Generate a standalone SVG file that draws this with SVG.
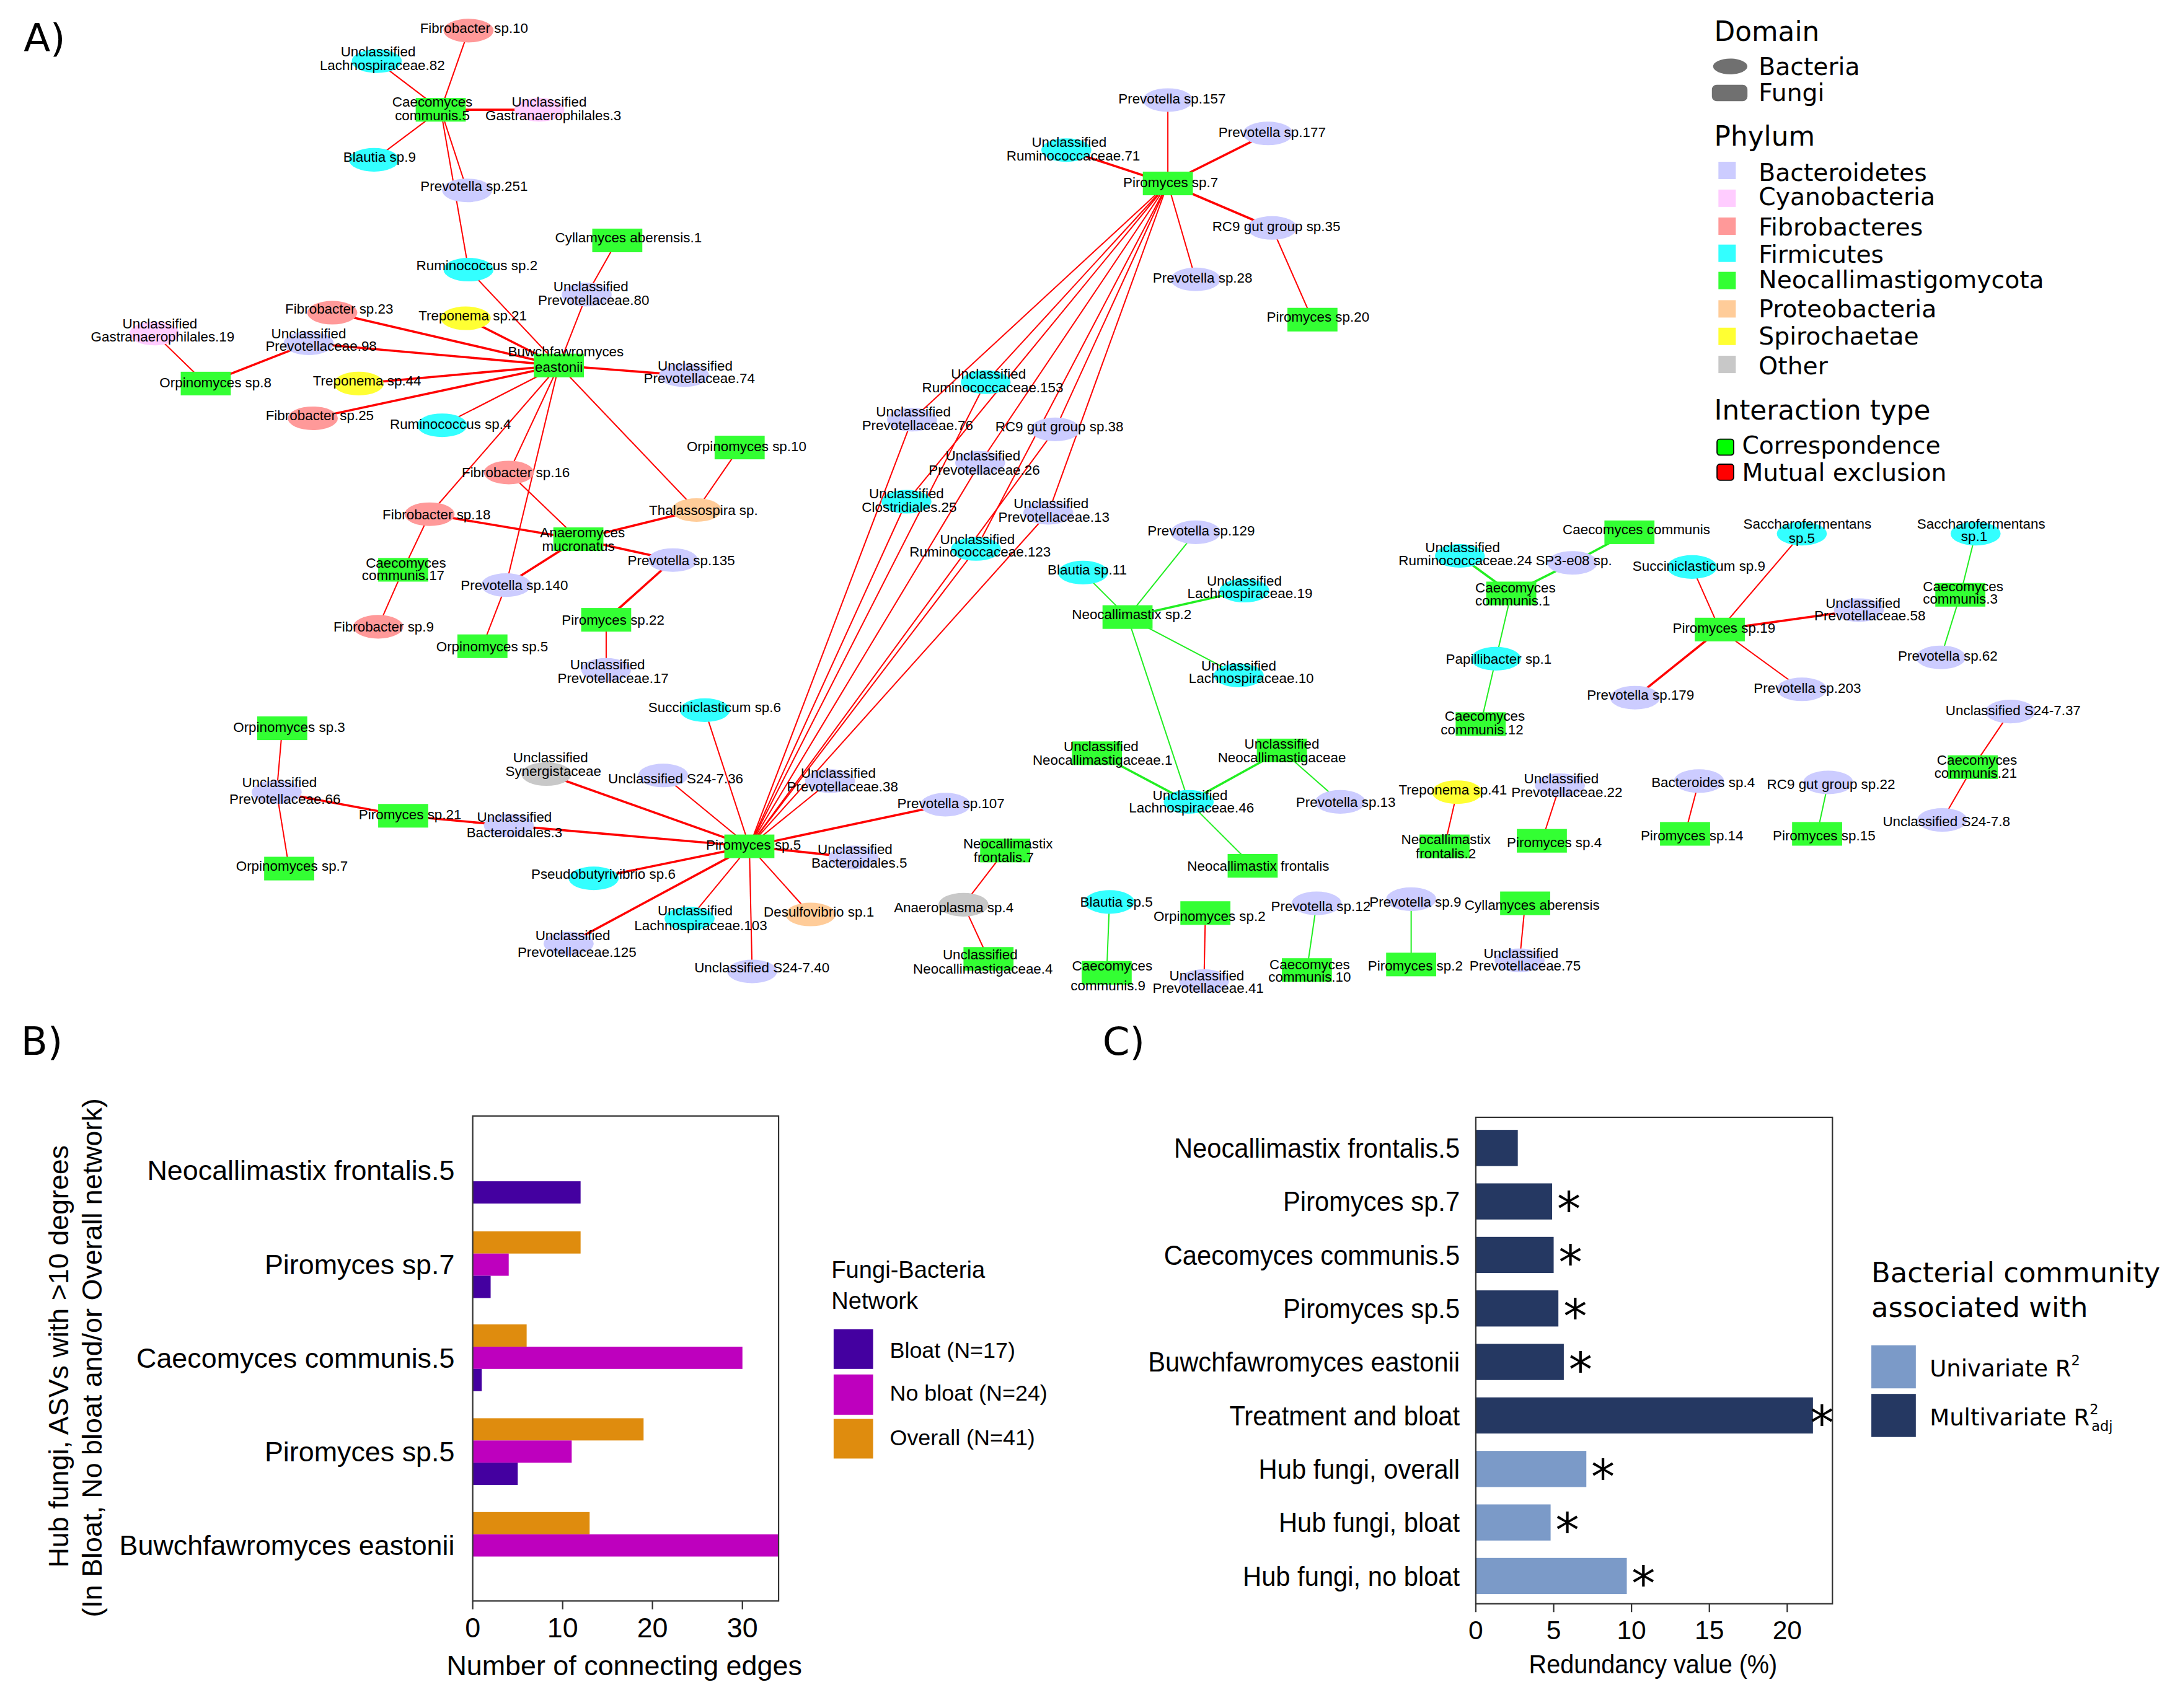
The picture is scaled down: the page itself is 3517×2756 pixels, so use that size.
<svg xmlns="http://www.w3.org/2000/svg" width="3517" height="2756" viewBox="0 0 3517 2756">
<style>
.t{font-family:"Liberation Sans",Arial,sans-serif;font-size:10px;text-anchor:middle;fill:#000}
.bd{fill:#ccccff}.cy{fill:#ffccff}.fb{fill:#ff9999}.fm{fill:#33ffff}.nc{fill:#33ff33}.pr{fill:#ffcc99}.sp{fill:#ffff33}.ot{fill:#c8c8c8}
.r{stroke:#ff0000;stroke-width:0.9}.R{stroke:#ff0000;stroke-width:1.6}
.g{stroke:#22ee22;stroke-width:0.9}.G{stroke:#22ee22;stroke-width:1.6}
.lg{font-family:"DejaVu Sans",Verdana,sans-serif;fill:#000}
.ax{font-family:"Liberation Sans",Arial,sans-serif;fill:#000}
.pl{font-family:"DejaVu Sans",Verdana,sans-serif;font-size:28px;fill:#000}
</style>
<rect x="0" y="0" width="3517" height="2756" fill="#fff"/>
<g transform="scale(2.24298 2.24247)">
<text class="pl" x="17" y="37">A)</text>

<g id="connectors" fill="none">
<line class="r" x1="317" y1="79" x2="337" y2="22"/>
<line class="r" x1="317" y1="79" x2="271" y2="44"/>
<line class="R" x1="317" y1="79" x2="388" y2="79"/>
<line class="r" x1="317" y1="79" x2="269" y2="115"/>
<line class="r" x1="317" y1="79" x2="336" y2="137"/>
<line class="r" x1="317" y1="79" x2="337" y2="194"/>
<line class="r" x1="337" y1="194" x2="402" y2="263"/>
<line class="r" x1="444" y1="173" x2="422" y2="212"/>
<line class="r" x1="422" y1="212" x2="402" y2="263"/>
<line class="R" x1="239" y1="225" x2="402" y2="263"/>
<line class="R" x1="335" y1="229" x2="402" y2="263"/>
<line class="R" x1="222" y1="247" x2="402" y2="263"/>
<line class="r" x1="111" y1="240" x2="148" y2="276"/>
<line class="R" x1="148" y1="276" x2="222" y2="247"/>
<line class="R" x1="258" y1="276" x2="402" y2="263"/>
<line class="R" x1="492" y1="270" x2="402" y2="263"/>
<line class="R" x1="225" y1="301" x2="402" y2="263"/>
<line class="r" x1="318" y1="306" x2="402" y2="263"/>
<line class="r" x1="366" y1="340" x2="402" y2="263"/>
<line class="r" x1="309" y1="370" x2="402" y2="263"/>
<line class="r" x1="364" y1="421" x2="402" y2="263"/>
<line class="r" x1="501" y1="367" x2="402" y2="263"/>
<line class="r" x1="532" y1="322" x2="501" y2="367"/>
<line class="R" x1="501" y1="367" x2="416" y2="388"/>
<line class="r" x1="366" y1="340" x2="416" y2="388"/>
<line class="R" x1="309" y1="370" x2="416" y2="388"/>
<line class="R" x1="416" y1="388" x2="484" y2="403"/>
<line class="R" x1="416" y1="388" x2="364" y2="421"/>
<line class="r" x1="309" y1="370" x2="290" y2="410"/>
<line class="r" x1="290" y1="410" x2="272" y2="451"/>
<line class="r" x1="364" y1="421" x2="347" y2="465"/>
<line class="R" x1="484" y1="403" x2="436" y2="446"/>
<line class="r" x1="436" y1="446" x2="436" y2="482"/>

<line class="r" x1="840" y1="132" x2="840" y2="72"/>
<line class="R" x1="840" y1="132" x2="912" y2="96"/>
<line class="R" x1="840" y1="132" x2="767" y2="108"/>
<line class="R" x1="840" y1="132" x2="915" y2="164"/>
<line class="r" x1="840" y1="132" x2="860" y2="201"/>
<line class="r" x1="915" y1="164" x2="944" y2="230"/>
<line class="r" x1="840" y1="132" x2="709" y2="275"/>
<line class="r" x1="840" y1="132" x2="656" y2="302"/>
<line class="r" x1="840" y1="132" x2="759" y2="309"/>
<line class="r" x1="840" y1="132" x2="705" y2="333"/>
<line class="r" x1="840" y1="132" x2="652" y2="361"/>
<line class="r" x1="840" y1="132" x2="754" y2="369"/>
<line class="r" x1="840" y1="132" x2="702" y2="395"/>
<line class="r" x1="539" y1="609" x2="709" y2="275"/>
<line class="r" x1="539" y1="609" x2="656" y2="302"/>
<line class="r" x1="539" y1="609" x2="759" y2="309"/>
<line class="r" x1="539" y1="609" x2="705" y2="333"/>
<line class="r" x1="539" y1="609" x2="652" y2="361"/>
<line class="r" x1="539" y1="609" x2="754" y2="369"/>
<line class="r" x1="539" y1="609" x2="702" y2="395"/>

<line class="r" x1="203" y1="524" x2="199" y2="570"/>
<line class="r" x1="199" y1="570" x2="208" y2="625"/>
<line class="R" x1="199" y1="570" x2="290" y2="587"/>
<line class="R" x1="290" y1="587" x2="366" y2="594"/>
<line class="R" x1="366" y1="594" x2="539" y2="609"/>
<line class="R" x1="393" y1="557" x2="539" y2="609"/>
<line class="r" x1="477" y1="558" x2="539" y2="609"/>
<line class="r" x1="507" y1="511" x2="539" y2="609"/>
<line class="r" x1="597" y1="562" x2="539" y2="609"/>
<line class="R" x1="680" y1="579" x2="539" y2="609"/>
<line class="R" x1="614" y1="617" x2="539" y2="609"/>
<line class="R" x1="427" y1="632" x2="539" y2="609"/>
<line class="R" x1="409" y1="679" x2="539" y2="609"/>
<line class="r" x1="496" y1="661" x2="539" y2="609"/>
<line class="r" x1="541" y1="699" x2="539" y2="609"/>
<line class="r" x1="583" y1="658" x2="539" y2="609"/>

<line class="g" x1="811" y1="444" x2="860" y2="383"/>
<line class="g" x1="811" y1="444" x2="779" y2="412"/>
<line class="G" x1="811" y1="444" x2="895" y2="425"/>
<line class="g" x1="811" y1="444" x2="891" y2="486"/>
<line class="g" x1="811" y1="444" x2="855" y2="577"/>
<line class="G" x1="789" y1="542" x2="855" y2="577"/>
<line class="G" x1="922" y1="540" x2="855" y2="577"/>
<line class="g" x1="922" y1="540" x2="964" y2="577"/>
<line class="g" x1="855" y1="577" x2="901" y2="623"/>
<line class="g" x1="798" y1="649" x2="796" y2="700"/>
<line class="g" x1="947" y1="650" x2="940" y2="698"/>
<line class="g" x1="1015" y1="647" x2="1015" y2="694"/>
<line class="g" x1="1315" y1="563" x2="1307" y2="600"/>
<line class="r" x1="723" y1="612" x2="693" y2="651"/>
<line class="r" x1="693" y1="651" x2="711" y2="690"/>
<line class="r" x1="867" y1="657" x2="866" y2="706"/>
<line class="r" x1="1097" y1="650" x2="1093" y2="691"/>
<line class="r" x1="1048" y1="570" x2="1039" y2="609"/>
<line class="r" x1="1122" y1="565" x2="1109" y2="605"/>
<line class="r" x1="1222" y1="562" x2="1212" y2="600"/>
<line class="r" x1="1446" y1="512" x2="1419" y2="552"/>
<line class="r" x1="1419" y1="552" x2="1397" y2="590"/>

<line class="G" x1="1172" y1="383" x2="1131" y2="405"/>
<line class="G" x1="1131" y1="405" x2="1087" y2="427"/>
<line class="G" x1="1050" y1="400" x2="1087" y2="427"/>
<line class="g" x1="1087" y1="427" x2="1076" y2="474"/>
<line class="g" x1="1076" y1="474" x2="1065" y2="521"/>
<line class="g" x1="1421" y1="384" x2="1410" y2="428"/>
<line class="g" x1="1410" y1="428" x2="1396" y2="473"/>
<line class="r" x1="1217" y1="408" x2="1237" y2="453"/>
<line class="r" x1="1296" y1="384" x2="1237" y2="453"/>
<line class="R" x1="1337" y1="439" x2="1237" y2="453"/>
<line class="R" x1="1237" y1="453" x2="1176" y2="502"/>
<line class="r" x1="1237" y1="453" x2="1296" y2="496"/>
</g>

<g id="n-fib10"><ellipse class="fb" cx="337" cy="22" rx="18" ry="8.5"/><text class="t" x="341" y="23.5">Fibrobacter sp.10</text></g>
<g id="n-lach82"><ellipse class="fm" cx="271" cy="44" rx="18" ry="8.5"/><text class="t" x="272" y="40.5">Unclassified</text><text class="t" x="275" y="50.5">Lachnospiraceae.82</text></g>
<g id="n-caeco5"><rect class="nc" x="299" y="70.5" width="36" height="17"/><text class="t" x="311" y="76.5">Caecomyces</text><text class="t" x="311" y="86.5">communis.5</text></g>
<g id="n-gastr3"><ellipse class="cy" cx="388" cy="79" rx="18" ry="8.5"/><text class="t" x="395" y="76.5">Unclassified</text><text class="t" x="398" y="86.5">Gastranaerophilales.3</text></g>
<g id="n-blautia9"><ellipse class="fm" cx="269" cy="115" rx="18" ry="8.5"/><text class="t" x="273" y="116.5">Blautia sp.9</text></g>
<g id="n-prev251"><ellipse class="bd" cx="336" cy="137" rx="18" ry="8.5"/><text class="t" x="341" y="137.5">Prevotella sp.251</text></g>
<g id="n-rum2"><ellipse class="fm" cx="337" cy="194" rx="18" ry="8.5"/><text class="t" x="343" y="194.5">Ruminococcus sp.2</text></g>
<g id="n-cyll1"><rect class="nc" x="426" y="164.5" width="36" height="17"/><text class="t" x="452" y="174.5">Cyllamyces aberensis.1</text></g>
<g id="n-prev80"><ellipse class="bd" cx="422" cy="212" rx="18" ry="8.5"/><text class="t" x="425" y="209.5">Unclassified</text><text class="t" x="427" y="219.5">Prevotellaceae.80</text></g>
<g id="n-fib23"><ellipse class="fb" cx="239" cy="225" rx="18" ry="8.5"/><text class="t" x="244" y="225.5">Fibrobacter sp.23</text></g>
<g id="n-trep21"><ellipse class="sp" cx="335" cy="229" rx="18" ry="8.5"/><text class="t" x="340" y="230.5">Treponema sp.21</text></g>
<g id="n-gastr19"><ellipse class="cy" cx="111" cy="240" rx="18" ry="8.5"/><text class="t" x="115" y="236.5">Unclassified</text><text class="t" x="117" y="245.5">Gastranaerophilales.19</text></g>
<g id="n-prev98"><ellipse class="bd" cx="222" cy="247" rx="18" ry="8.5"/><text class="t" x="222" y="243.5">Unclassified</text><text class="t" x="231" y="252.5">Prevotellaceae.98</text></g>
<g id="n-buwch"><rect class="nc" x="384" y="254.5" width="36" height="17"/><text class="t" x="407" y="256.5">Buwchfawromyces</text><text class="t" x="402" y="267.5">eastonii</text></g>
<g id="n-prev74"><ellipse class="bd" cx="492" cy="270" rx="18" ry="8.5"/><text class="t" x="500" y="266.5">Unclassified</text><text class="t" x="503" y="275.5">Prevotellaceae.74</text></g>
<g id="n-orp8"><rect class="nc" x="130" y="267.5" width="36" height="17"/><text class="t" x="155" y="278.5">Orpinomyces sp.8</text></g>
<g id="n-trep44"><ellipse class="sp" cx="258" cy="276" rx="18" ry="8.5"/><text class="t" x="264" y="277.5">Treponema sp.44</text></g>
<g id="n-fib25"><ellipse class="fb" cx="225" cy="301" rx="18" ry="8.5"/><text class="t" x="230" y="302.5">Fibrobacter sp.25</text></g>
<g id="n-rum4"><ellipse class="fm" cx="318" cy="306" rx="18" ry="8.5"/><text class="t" x="324" y="308.5">Ruminococcus sp.4</text></g>
<g id="n-orp10"><rect class="nc" x="514" y="313.5" width="36" height="17"/><text class="t" x="537" y="324.5">Orpinomyces sp.10</text></g>
<g id="n-fib16"><ellipse class="fb" cx="366" cy="340" rx="18" ry="8.5"/><text class="t" x="371" y="343.5">Fibrobacter sp.16</text></g>
<g id="n-fib18"><ellipse class="fb" cx="309" cy="370" rx="18" ry="8.5"/><text class="t" x="314" y="373.5">Fibrobacter sp.18</text></g>
<g id="n-thal"><ellipse class="pr" cx="501" cy="367" rx="18" ry="8.5"/><text class="t" x="506" y="370.5">Thalassospira sp.</text></g>
<g id="n-anaero"><rect class="nc" x="398" y="379.5" width="36" height="17"/><text class="t" x="419" y="386.5">Anaeromyces</text><text class="t" x="416" y="396.5">mucronatus</text></g>
<g id="n-prev135"><ellipse class="bd" cx="484" cy="403" rx="18" ry="8.5"/><text class="t" x="490" y="406.5">Prevotella sp.135</text></g>
<g id="n-caeco17"><rect class="nc" x="272" y="401.5" width="36" height="17"/><text class="t" x="292" y="408.5">Caecomyces</text><text class="t" x="290" y="417.5">communis.17</text></g>
<g id="n-prev140"><ellipse class="bd" cx="364" cy="421" rx="18" ry="8.5"/><text class="t" x="370" y="424.5">Prevotella sp.140</text></g>
<g id="n-fib9"><ellipse class="fb" cx="272" cy="451" rx="18" ry="8.5"/><text class="t" x="276" y="454.5">Fibrobacter sp.9</text></g>
<g id="n-pir22"><rect class="nc" x="418" y="437.5" width="36" height="17"/><text class="t" x="441" y="449.5">Piromyces sp.22</text></g>
<g id="n-orp5"><rect class="nc" x="329" y="456.5" width="36" height="17"/><text class="t" x="354" y="468.5">Orpinomyces sp.5</text></g>
<g id="n-prev17"><ellipse class="bd" cx="436" cy="482" rx="18" ry="8.5"/><text class="t" x="437" y="481.5">Unclassified</text><text class="t" x="441" y="491.5">Prevotellaceae.17</text></g>

<g id="n-prev157"><ellipse class="bd" cx="840" cy="72" rx="18" ry="8.5"/><text class="t" x="843" y="74.5">Prevotella sp.157</text></g>
<g id="n-prev177"><ellipse class="bd" cx="912" cy="96" rx="18" ry="8.5"/><text class="t" x="915" y="98.5">Prevotella sp.177</text></g>
<g id="n-rum71"><ellipse class="fm" cx="767" cy="108" rx="18" ry="8.5"/><text class="t" x="769" y="105.5">Unclassified</text><text class="t" x="772" y="115.5">Ruminococcaceae.71</text></g>
<g id="n-pir7"><rect class="nc" x="822" y="123.5" width="36" height="17"/><text class="t" x="842" y="134.5">Piromyces sp.7</text></g>
<g id="n-rc935"><ellipse class="bd" cx="915" cy="164" rx="18" ry="8.5"/><text class="t" x="918" y="166.5">RC9 gut group sp.35</text></g>
<g id="n-prev28"><ellipse class="bd" cx="860" cy="201" rx="18" ry="8.5"/><text class="t" x="865" y="203.5">Prevotella sp.28</text></g>
<g id="n-pir20"><rect class="nc" x="926" y="221.5" width="36" height="17"/><text class="t" x="948" y="231.5">Piromyces sp.20</text></g>

<g id="n-rum153"><ellipse class="fm" cx="709" cy="275" rx="18" ry="8.5"/><text class="t" x="711" y="272.5">Unclassified</text><text class="t" x="714" y="282.5">Ruminococcaceae.153</text></g>
<g id="n-prev76"><ellipse class="bd" cx="656" cy="302" rx="18" ry="8.5"/><text class="t" x="657" y="299.5">Unclassified</text><text class="t" x="660" y="309.5">Prevotellaceae.76</text></g>
<g id="n-rc938"><ellipse class="bd" cx="759" cy="309" rx="18" ry="8.5"/><text class="t" x="762" y="310.5">RC9 gut group sp.38</text></g>
<g id="n-prev26"><ellipse class="bd" cx="705" cy="333" rx="18" ry="8.5"/><text class="t" x="707" y="331.5">Unclassified</text><text class="t" x="708" y="341.5">Prevotellaceae.26</text></g>
<g id="n-clos25"><ellipse class="fm" cx="652" cy="361" rx="18" ry="8.5"/><text class="t" x="652" y="358.5">Unclassified</text><text class="t" x="654" y="368.5">Clostridiales.25</text></g>
<g id="n-prev13u"><ellipse class="bd" cx="754" cy="369" rx="18" ry="8.5"/><text class="t" x="756" y="365.5">Unclassified</text><text class="t" x="758" y="375.5">Prevotellaceae.13</text></g>
<g id="n-rum123"><ellipse class="fm" cx="702" cy="395" rx="18" ry="8.5"/><text class="t" x="703" y="391.5">Unclassified</text><text class="t" x="705" y="400.5">Ruminococcaceae.123</text></g>

<g id="n-prev129"><ellipse class="bd" cx="860" cy="383" rx="18" ry="8.5"/><text class="t" x="864" y="385.5">Prevotella sp.129</text></g>
<g id="n-blautia11"><ellipse class="fm" cx="779" cy="412" rx="18" ry="8.5"/><text class="t" x="782" y="413.5">Blautia sp.11</text></g>
<g id="n-lach19"><ellipse class="fm" cx="895" cy="425" rx="18" ry="8.5"/><text class="t" x="895" y="421.5">Unclassified</text><text class="t" x="899" y="430.5">Lachnospiraceae.19</text></g>
<g id="n-neo2"><rect class="nc" x="793" y="435.5" width="36" height="17"/><text class="t" x="814" y="445.5">Neocallimastix sp.2</text></g>
<g id="n-lach10"><ellipse class="fm" cx="891" cy="486" rx="18" ry="8.5"/><text class="t" x="891" y="482.5">Unclassified</text><text class="t" x="900" y="491.5">Lachnospiraceae.10</text></g>
<g id="n-neoc1"><rect class="nc" x="771" y="533.5" width="36" height="17"/><text class="t" x="792" y="540.5">Unclassified</text><text class="t" x="793" y="550.5">Neocallimastigaceae.1</text></g>
<g id="n-neocu"><rect class="nc" x="904" y="531.5" width="36" height="17"/><text class="t" x="922" y="538.5">Unclassified</text><text class="t" x="922" y="548.5">Neocallimastigaceae</text></g>
<g id="n-lach46"><ellipse class="fm" cx="855" cy="577" rx="18" ry="8.5"/><text class="t" x="856" y="575.5">Unclassified</text><text class="t" x="857" y="584.5">Lachnospiraceae.46</text></g>
<g id="n-prev13"><ellipse class="bd" cx="964" cy="577" rx="18" ry="8.5"/><text class="t" x="968" y="580.5">Prevotella sp.13</text></g>
<g id="n-neofront"><rect class="nc" x="883" y="614.5" width="36" height="17"/><text class="t" x="905" y="626.5">Neocallimastix frontalis</text></g>

<g id="n-succ6"><ellipse class="fm" cx="507" cy="511" rx="18" ry="8.5"/><text class="t" x="514" y="512.5">Succiniclasticum sp.6</text></g>
<g id="n-orp3"><rect class="nc" x="185" y="515.5" width="36" height="17"/><text class="t" x="208" y="526.5">Orpinomyces sp.3</text></g>
<g id="n-synerg"><ellipse class="ot" cx="393" cy="557" rx="18" ry="8.5"/><text class="t" x="396" y="548.5">Unclassified</text><text class="t" x="398" y="558.5">Synergistaceae</text></g>
<g id="n-s2436"><ellipse class="bd" cx="477" cy="558" rx="18" ry="8.5"/><text class="t" x="486" y="563.5">Unclassified S24-7.36</text></g>
<g id="n-prev66"><ellipse class="bd" cx="199" cy="570" rx="18" ry="8.5"/><text class="t" x="201" y="566.5">Unclassified</text><text class="t" x="205" y="578.5">Prevotellaceae.66</text></g>
<g id="n-pir21"><rect class="nc" x="272" y="578.5" width="36" height="17"/><text class="t" x="295" y="589.5">Piromyces sp.21</text></g>
<g id="n-bact3"><ellipse class="bd" cx="366" cy="594" rx="18" ry="8.5"/><text class="t" x="370" y="591.5">Unclassified</text><text class="t" x="370" y="602.5">Bacteroidales.3</text></g>
<g id="n-prev38"><ellipse class="bd" cx="597" cy="562" rx="18" ry="8.5"/><text class="t" x="603" y="559.5">Unclassified</text><text class="t" x="606" y="569.5">Prevotellaceae.38</text></g>
<g id="n-prev107"><ellipse class="bd" cx="680" cy="579" rx="18" ry="8.5"/><text class="t" x="684" y="581.5">Prevotella sp.107</text></g>
<g id="n-pir5"><rect class="nc" x="521" y="600.5" width="36" height="17"/><text class="t" x="542" y="611.5">Piromyces sp.5</text></g>
<g id="n-bact5"><ellipse class="bd" cx="614" cy="617" rx="18" ry="8.5"/><text class="t" x="615" y="614.5">Unclassified</text><text class="t" x="618" y="624.5">Bacteroidales.5</text></g>
<g id="n-pseudo6"><ellipse class="fm" cx="427" cy="632" rx="18" ry="8.5"/><text class="t" x="434" y="632.5">Pseudobutyrivibrio sp.6</text></g>
<g id="n-orp7"><rect class="nc" x="190" y="616.5" width="36" height="17"/><text class="t" x="210" y="626.5">Orpinomyces sp.7</text></g>
<g id="n-lach103"><ellipse class="fm" cx="496" cy="661" rx="18" ry="8.5"/><text class="t" x="500" y="658.5">Unclassified</text><text class="t" x="504" y="669.5">Lachnospiraceae.103</text></g>
<g id="n-desulfo"><ellipse class="pr" cx="583" cy="658" rx="18" ry="8.5"/><text class="t" x="589" y="659.5">Desulfovibrio sp.1</text></g>
<g id="n-prev125"><ellipse class="bd" cx="409" cy="679" rx="18" ry="8.5"/><text class="t" x="412" y="676.5">Unclassified</text><text class="t" x="415" y="688.5">Prevotellaceae.125</text></g>
<g id="n-s2440"><ellipse class="bd" cx="541" cy="699" rx="18" ry="8.5"/><text class="t" x="548" y="699.5">Unclassified S24-7.40</text></g>

<g id="n-neofront7"><rect class="nc" x="705" y="603.5" width="36" height="17"/><text class="t" x="725" y="610.5">Neocallimastix</text><text class="t" x="722" y="620.5">frontalis.7</text></g>
<g id="n-anaeropl4"><ellipse class="ot" cx="693" cy="651" rx="18" ry="8.5"/><text class="t" x="686" y="656.5">Anaeroplasma sp.4</text></g>
<g id="n-neoc4"><rect class="nc" x="693" y="681.5" width="36" height="17"/><text class="t" x="705" y="690.5">Unclassified</text><text class="t" x="707" y="700.5">Neocallimastigaceae.4</text></g>
<g id="n-blautia5"><ellipse class="fm" cx="798" cy="649" rx="18" ry="8.5"/><text class="t" x="803" y="652.5">Blautia sp.5</text></g>
<g id="n-caeco9"><rect class="nc" x="778" y="691.5" width="36" height="17"/><text class="t" x="800" y="698.5">Caecomyces</text><text class="t" x="797" y="712.5">communis.9</text></g>
<g id="n-orp2"><rect class="nc" x="849" y="648.5" width="36" height="17"/><text class="t" x="870" y="662.5">Orpinomyces sp.2</text></g>
<g id="n-prev41"><ellipse class="bd" cx="866" cy="706" rx="18" ry="8.5"/><text class="t" x="868" y="705.5">Unclassified</text><text class="t" x="869" y="714.5">Prevotellaceae.41</text></g>
<g id="n-prev12"><ellipse class="bd" cx="947" cy="650" rx="18" ry="8.5"/><text class="t" x="950" y="655.5">Prevotella sp.12</text></g>
<g id="n-caeco10"><rect class="nc" x="922" y="689.5" width="36" height="17"/><text class="t" x="942" y="697.5">Caecomyces</text><text class="t" x="942" y="706.5">communis.10</text></g>
<g id="n-prev9"><ellipse class="bd" cx="1015" cy="647" rx="18" ry="8.5"/><text class="t" x="1018" y="652.5">Prevotella sp.9</text></g>
<g id="n-pir2"><rect class="nc" x="997" y="685.5" width="36" height="17"/><text class="t" x="1018" y="698.5">Piromyces sp.2</text></g>
<g id="n-cyllab"><rect class="nc" x="1079" y="641.5" width="36" height="17"/><text class="t" x="1102" y="654.5">Cyllamyces aberensis</text></g>
<g id="n-prev75"><ellipse class="bd" cx="1093" cy="691" rx="18" ry="8.5"/><text class="t" x="1094" y="689.5">Unclassified</text><text class="t" x="1097" y="698.5">Prevotellaceae.75</text></g>
<g id="n-trep41"><ellipse class="sp" cx="1048" cy="570" rx="18" ry="8.5"/><text class="t" x="1045" y="571.5">Treponema sp.41</text></g>
<g id="n-neofront2"><rect class="nc" x="1021" y="600.5" width="36" height="17"/><text class="t" x="1040" y="607.5">Neocallimastix</text><text class="t" x="1040" y="617.5">frontalis.2</text></g>
<g id="n-prev22"><ellipse class="bd" cx="1122" cy="565" rx="18" ry="8.5"/><text class="t" x="1123" y="563.5">Unclassified</text><text class="t" x="1127" y="573.5">Prevotellaceae.22</text></g>
<g id="n-pir4"><rect class="nc" x="1091" y="596.5" width="36" height="17"/><text class="t" x="1118" y="609.5">Piromyces sp.4</text></g>
<g id="n-bacteroides4"><ellipse class="bd" cx="1222" cy="562" rx="18" ry="8.5"/><text class="t" x="1225" y="566.5">Bacteroides sp.4</text></g>
<g id="n-pir14"><rect class="nc" x="1194" y="591.5" width="36" height="17"/><text class="t" x="1217" y="604.5">Piromyces sp.14</text></g>
<g id="n-rc922"><ellipse class="bd" cx="1315" cy="563" rx="18" ry="8.5"/><text class="t" x="1317" y="567.5">RC9 gut group sp.22</text></g>
<g id="n-pir15"><rect class="nc" x="1289" y="591.5" width="36" height="17"/><text class="t" x="1312" y="604.5">Piromyces sp.15</text></g>
<g id="n-s2437"><ellipse class="bd" cx="1446" cy="512" rx="18" ry="8.5"/><text class="t" x="1448" y="514.5">Unclassified S24-7.37</text></g>
<g id="n-caeco21"><rect class="nc" x="1401" y="543.5" width="36" height="17"/><text class="t" x="1422" y="550.5">Caecomyces</text><text class="t" x="1421" y="559.5">communis.21</text></g>
<g id="n-s248"><ellipse class="bd" cx="1397" cy="590" rx="18" ry="8.5"/><text class="t" x="1400" y="594.5">Unclassified S24-7.8</text></g>

<g id="n-caeco"><rect class="nc" x="1154" y="374.5" width="36" height="17"/><text class="t" x="1177" y="384.5">Caecomyces communis</text></g>
<g id="n-rum24"><ellipse class="fm" cx="1050" cy="400" rx="18" ry="8.5"/><text class="t" x="1052" y="397.5">Unclassified</text><text class="t" x="1054" y="406.5">Ruminococcaceae.24</text></g>
<g id="n-sp3"><ellipse class="bd" cx="1131" cy="405" rx="18" ry="8.5"/><text class="t" x="1132" y="406.5">SP3-e08 sp.</text></g>
<g id="n-caeco1"><rect class="nc" x="1069" y="418.5" width="36" height="17"/><text class="t" x="1090" y="426.5">Caecomyces</text><text class="t" x="1088" y="435.5">communis.1</text></g>
<g id="n-papill"><ellipse class="fm" cx="1076" cy="474" rx="18" ry="8.5"/><text class="t" x="1078" y="477.5">Papillibacter sp.1</text></g>
<g id="n-caeco12"><rect class="nc" x="1047" y="512.5" width="36" height="17"/><text class="t" x="1068" y="518.5">Caecomyces</text><text class="t" x="1066" y="528.5">communis.12</text></g>
<g id="n-succ9"><ellipse class="fm" cx="1217" cy="408" rx="18" ry="8.5"/><text class="t" x="1222" y="410.5">Succiniclasticum sp.9</text></g>
<g id="n-sacch5"><ellipse class="fm" cx="1296" cy="384" rx="18" ry="8.5"/><text class="t" x="1300" y="380.5">Saccharofermentans</text><text class="t" x="1296" y="390.5">sp.5</text></g>
<g id="n-pir19"><rect class="nc" x="1219" y="444.5" width="36" height="17"/><text class="t" x="1240" y="455.5">Piromyces sp.19</text></g>
<g id="n-prev58"><ellipse class="bd" cx="1337" cy="439" rx="18" ry="8.5"/><text class="t" x="1340" y="437.5">Unclassified</text><text class="t" x="1345" y="446.5">Prevotellaceae.58</text></g>
<g id="n-prev179"><ellipse class="bd" cx="1176" cy="502" rx="18" ry="8.5"/><text class="t" x="1180" y="503.5">Prevotella sp.179</text></g>
<g id="n-prev203"><ellipse class="bd" cx="1296" cy="496" rx="18" ry="8.5"/><text class="t" x="1300" y="498.5">Prevotella sp.203</text></g>
<g id="n-sacch1"><ellipse class="fm" cx="1421" cy="384" rx="18" ry="8.5"/><text class="t" x="1425" y="380.5">Saccharofermentans</text><text class="t" x="1420" y="389.5">sp.1</text></g>
<g id="n-caeco3"><rect class="nc" x="1392" y="419.5" width="36" height="17"/><text class="t" x="1412" y="425.5">Caecomyces</text><text class="t" x="1410" y="434.5">communis.3</text></g>
<g id="n-prev62"><ellipse class="bd" cx="1396" cy="473" rx="18" ry="8.5"/><text class="t" x="1401" y="475.5">Prevotella sp.62</text></g>

<g id="legendA" class="lg">
<text x="1233" y="29.6" font-size="19.5">Domain</text>
<ellipse cx="1244.5" cy="47.8" rx="12.3" ry="5.7" fill="#707070"/>
<text x="1265" y="54.1" font-size="17.5">Bacteria</text>
<rect x="1231.3" y="61" width="25.6" height="11.8" rx="3.5" fill="#707070"/>
<text x="1265" y="72.8" font-size="17.5">Fungi</text>
<text x="1233" y="104.6" font-size="19.5">Phylum</text>
<rect x="1236" y="116.4" width="12.5" height="12.5" class="bd"/><text x="1265" y="130" font-size="17.5">Bacteroidetes</text>
<rect x="1236" y="136.4" width="12.5" height="12.5" class="cy"/><text x="1265" y="147.8" font-size="17.5">Cyanobacteria</text>
<rect x="1236" y="156.5" width="12.5" height="12.5" class="fb"/><text x="1265" y="169.4" font-size="17.5">Fibrobacteres</text>
<rect x="1236" y="176" width="12.5" height="12.5" class="fm"/><text x="1265" y="189.2" font-size="17.5">Firmicutes</text>
<rect x="1236" y="195.6" width="12.5" height="12.5" class="nc"/><text x="1265" y="207.4" font-size="17.5">Neocallimastigomycota</text>
<rect x="1236" y="216" width="12.5" height="12.5" class="pr"/><text x="1265" y="228.5" font-size="17.5">Proteobacteria</text>
<rect x="1236" y="235.8" width="12.5" height="12.5" class="sp"/><text x="1265" y="247.9" font-size="17.5">Spirochaetae</text>
<rect x="1236" y="256" width="12.5" height="12.5" class="ot"/><text x="1265" y="269.5" font-size="17.5">Other</text>
<text x="1233" y="302" font-size="19.5">Interaction type</text>
<rect x="1235" y="316" width="12" height="11.5" rx="2" fill="#00ff00" stroke="#000" stroke-width="0.8"/><text x="1253" y="326.3" font-size="17.5">Correspondence</text>
<rect x="1235" y="334" width="12" height="11.5" rx="2" fill="#ff0000" stroke="#000" stroke-width="0.8"/><text x="1253" y="346" font-size="17.5">Mutual exclusion</text>
</g>

<g id="panelB">
<text class="pl" x="15" y="759">B)</text>
<g class="ax" font-size="20">
<text transform="translate(49,976) rotate(-90)" text-anchor="middle">Hub fungi, ASVs with &gt;10 degrees</text>
<text transform="translate(73,977) rotate(-90)" text-anchor="middle">(In Bloat, No bloat and/or Overall network)</text>
<text x="327" y="849" text-anchor="end">Neocallimastix frontalis.5</text>
<text x="327" y="917" text-anchor="end">Piromyces sp.7</text>
<text x="327" y="984" text-anchor="end">Caecomyces communis.5</text>
<text x="327" y="1051.5" text-anchor="end">Piromyces sp.5</text>
<text x="327" y="1119" text-anchor="end">Buwchfawromyces eastonii</text>
<text x="340" y="1178" text-anchor="middle">0</text>
<text x="404.7" y="1178" text-anchor="middle">10</text>
<text x="469.3" y="1178" text-anchor="middle">20</text>
<text x="534" y="1178" text-anchor="middle">30</text>
<text x="449" y="1205.5" text-anchor="middle">Number of connecting edges</text>
</g>
<rect x="340" y="850" width="77.6" height="16" fill="#4400a0"/>
<rect x="340" y="886" width="77.6" height="16" fill="#df8c0e"/>
<rect x="340" y="902" width="25.9" height="16" fill="#be00be"/>
<rect x="340" y="918" width="12.9" height="16" fill="#4400a0"/>
<rect x="340" y="953" width="38.8" height="16" fill="#df8c0e"/>
<rect x="340" y="969" width="194" height="16" fill="#be00be"/>
<rect x="340" y="985" width="6.5" height="16" fill="#4400a0"/>
<rect x="340" y="1020.5" width="122.9" height="16" fill="#df8c0e"/>
<rect x="340" y="1036.5" width="71.2" height="16" fill="#be00be"/>
<rect x="340" y="1052.5" width="32.4" height="16" fill="#4400a0"/>
<rect x="340" y="1088" width="84.1" height="16" fill="#df8c0e"/>
<rect x="340" y="1104" width="220" height="16" fill="#be00be"/>
<rect x="340" y="803" width="220" height="349" fill="none" stroke="#333" stroke-width="1"/>
<g stroke="#333" stroke-width="1">
<line x1="340" y1="1152" x2="340" y2="1158"/><line x1="404.7" y1="1152" x2="404.7" y2="1158"/><line x1="469.3" y1="1152" x2="469.3" y2="1158"/><line x1="534" y1="1152" x2="534" y2="1158"/>
</g>
<g class="ax" font-size="17">
<text x="598" y="919.5">Fungi-Bacteria</text>
<text x="598" y="942">Network</text>
<text x="640" y="977" font-size="16">Bloat (N=17)</text>
<text x="640" y="1008" font-size="16">No bloat (N=24)</text>
<text x="640" y="1040" font-size="16">Overall (N=41)</text>
</g>
<rect x="599.6" y="956.5" width="28.4" height="28.5" fill="#4400a0"/>
<rect x="599.6" y="989" width="28.4" height="29" fill="#be00be"/>
<rect x="599.6" y="1021" width="28.4" height="28.5" fill="#df8c0e"/>
</g>

<g id="panelC">
<text class="pl" x="793" y="759">C)</text>
<rect x="1061.5" y="813" width="30.2" height="26" fill="#253862"/>
<rect x="1061.5" y="851.5" width="54.9" height="26" fill="#253862"/>
<rect x="1061.5" y="890" width="56" height="26" fill="#253862"/>
<rect x="1061.5" y="928.5" width="59.4" height="26" fill="#253862"/>
<rect x="1061.5" y="967" width="63.3" height="26" fill="#253862"/>
<rect x="1061.5" y="1005.5" width="242.5" height="26" fill="#253862"/>
<rect x="1061.5" y="1044" width="79.5" height="26" fill="#7b9ac8"/>
<rect x="1061.5" y="1082.5" width="53.8" height="26" fill="#7b9ac8"/>
<rect x="1061.5" y="1121" width="108.6" height="26" fill="#7b9ac8"/>
<rect x="1061.5" y="804" width="256.5" height="350" fill="none" stroke="#333" stroke-width="1"/>
<g stroke="#333" stroke-width="1">
<line x1="1061.5" y1="1154" x2="1061.5" y2="1160"/><line x1="1117.5" y1="1154" x2="1117.5" y2="1160"/><line x1="1173.5" y1="1154" x2="1173.5" y2="1160"/><line x1="1229.5" y1="1154" x2="1229.5" y2="1160"/><line x1="1285.5" y1="1154" x2="1285.5" y2="1160"/>
</g>
<g class="lg" font-size="34" text-anchor="middle">
<text x="1128.4" y="882">*</text>
<text x="1129.5" y="920.5">*</text>
<text x="1133" y="959">*</text>
<text x="1136.8" y="997.5">*</text>
<text x="1310.5" y="1036">*</text>
<text x="1153" y="1074.5">*</text>
<text x="1127.3" y="1113">*</text>
<text x="1182" y="1151.5">*</text>
</g>
<g class="ax" font-size="20" transform="translate(1050 0) scale(0.93 1)" text-anchor="end">
<text x="0" y="833">Neocallimastix frontalis.5</text>
<text x="0" y="871.5">Piromyces sp.7</text>
<text x="0" y="910">Caecomyces communis.5</text>
<text x="0" y="948.5">Piromyces sp.5</text>
<text x="0" y="987">Buwchfawromyces eastonii</text>
<text x="0" y="1025.5">Treatment and bloat</text>
<text x="0" y="1064">Hub fungi, overall</text>
<text x="0" y="1102.5">Hub fungi, bloat</text>
<text x="0" y="1141">Hub fungi, no bloat</text>
</g>
<g class="ax" font-size="19" text-anchor="middle">
<text x="1061.5" y="1179.5">0</text>
<text x="1117.5" y="1179.5">5</text>
<text x="1173.5" y="1179.5">10</text>
<text x="1229.5" y="1179.5">15</text>
<text x="1285.5" y="1179.5">20</text>
<text x="1189" y="1204" transform="translate(1189 0) scale(0.93 1) translate(-1189 0)">Redundancy value (%)</text>
</g>
<g class="lg">
<text x="1346" y="922.6" font-size="20">Bacterial community</text>
<text x="1346" y="947.6" font-size="20">associated with</text>
<rect x="1346" y="968" width="32" height="31" fill="#7b9ac8"/>
<rect x="1346" y="1003" width="32" height="31" fill="#253862"/>
<text x="1388" y="990.5" font-size="16.5">Univariate R<tspan font-size="10" dy="-8">2</tspan></text>
<text x="1388" y="1025.5" font-size="16.5">Multivariate R<tspan font-size="10" dy="-8">2</tspan><tspan font-size="10" dx="-5" dy="12">adj</tspan></text>
</g>
</g>
</g>
</svg>
